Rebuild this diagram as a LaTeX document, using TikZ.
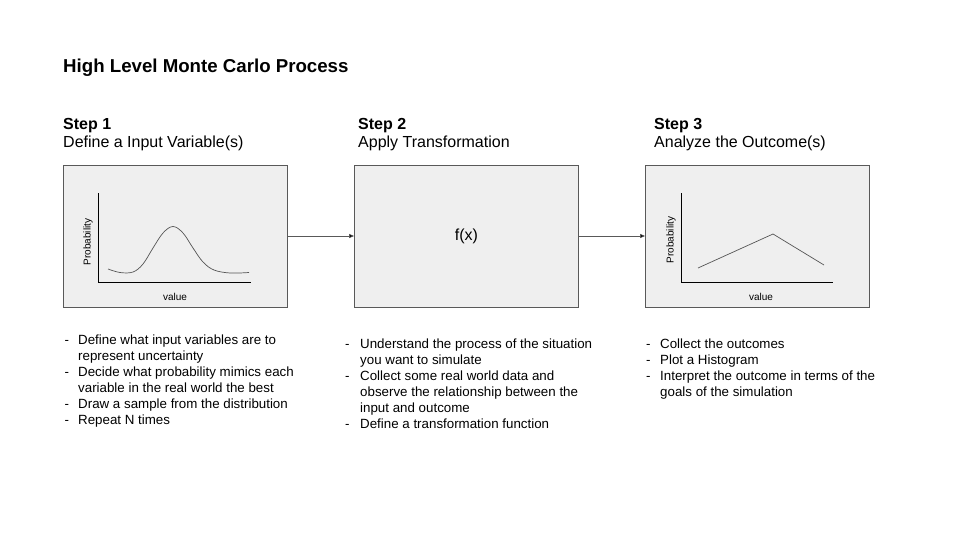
\documentclass[tikz,border=0pt]{standalone}
\usepackage{fontspec}
\setmainfont{Liberation Sans}
\usepackage{tikz}
\usetikzlibrary{positioning, arrows.meta}

\definecolor{boxfill}{HTML}{EFEFEF}
\definecolor{boxline}{HTML}{595959}
\definecolor{plotline}{HTML}{555555}
\newcommand{\listfont}{\fontsize{13.33}{16}\selectfont}

\begin{document}
\begin{tikzpicture}[x=1pt, y=-1pt,
    stepbox/.style={rectangle, draw=boxline, fill=boxfill, line width=0.8pt, minimum width=224pt, minimum height=142pt, inner sep=0pt},
    axislabel/.style={inner sep=0pt, font=\fontsize{10}{12}\selectfont}]
            \useasboundingbox (0,0) rectangle (960,540);

            % title
            \node[anchor=base west, inner sep=0pt, font=\bfseries\fontsize{18.67}{22}\selectfont](title) at (63,72.5) {High Level Monte Carlo Process};

            % step headings
            \node[anchor=base west, inner sep=0pt, font=\bfseries\fontsize{16}{19}\selectfont](s1) at (63,129.5) {Step 1};
            \node[anchor=base west, inner sep=0pt, font=\bfseries\fontsize{16}{19}\selectfont](s2) at (358,129.5) {Step 2};
            \node[anchor=base west, inner sep=0pt, font=\bfseries\fontsize{16}{19}\selectfont](s3) at (654,129.5) {Step 3};
            \node[anchor=base west, inner sep=0pt, font=\fontsize{16}{19}\selectfont](t1) at (63,147.5) {Define a Input Variable(s)};
            \node[anchor=base west, inner sep=0pt, font=\fontsize{16}{19}\selectfont](t2) at (358,147.5) {Apply Transformation};
            \node[anchor=base west, inner sep=0pt, font=\fontsize{16}{19}\selectfont](t3) at (654,147.5) {Analyze the Outcome(s)};

            % boxes
            \node[stepbox](b1) at (175.5,236) {};
            \node[stepbox](b2)[right = 66.2pt of b1]{\fontsize{16}{19}\selectfont\raisebox{-3.5pt}{f(x)}};
            \node[stepbox](b3)[right = 66.2pt of b2]{};

            \path[-{Triangle[length=5pt,width=4pt]}, draw=boxline, line width=0.6pt]
            (b1) edge (b2)
            (b2) edge (b3);

            % input distribution
            \draw[line width=0.6pt] (98,193) -- (98,282) -- (251,282);
            \node[axislabel, rotate=90](p1) at (88,242) {Probability};
            \node[axislabel](v1) at (175,297) {value};
            \draw[plotline, line width=0.7pt] plot[smooth, tension=0.6] coordinates {(108,269) (120,272.5) (133,272) (143,264) (153,248) (163,233) (173,226.5) (183,233) (193,248) (203,262) (214,270) (230,273) (249,272.5)};

            % outcome distribution
            \draw[line width=0.6pt] (681,193) -- (681,282) -- (833,282);
            \node[axislabel, rotate=90](p3) at (671,240) {Probability};
            \node[axislabel](v3) at (761,297) {value};
            \draw[plotline, line width=0.7pt] (698,268) -- (773,234) -- (824,265);

            % notes
            \node[anchor=base west, inner sep=0pt, font=\listfont](n1) at (63,344) {\begin{tabular}[t]{@{}p{15pt}@{}l@{}}
            \hspace{1.5pt}- & Define what input variables are to\\
              & represent uncertainty\\
            \hspace{1.5pt}- & Decide what probability mimics each\\
              & variable in the real world the best\\
            \hspace{1.5pt}- & Draw a sample from the distribution\\
            \hspace{1.5pt}- & Repeat N times
            \end{tabular}};
            \node[anchor=base west, inner sep=0pt, font=\listfont](n2) at (343.5,348) {\begin{tabular}[t]{@{}p{16.5pt}@{}l@{}}
            \hspace{1.5pt}- & Understand the process of the situation\\
              & you want to simulate\\
            \hspace{1.5pt}- & Collect some real world data and\\
              & observe the relationship between the\\
              & input and outcome\\
            \hspace{1.5pt}- & Define a transformation function
            \end{tabular}};
            \node[anchor=base west, inner sep=0pt, font=\listfont](n3) at (644.5,348) {\begin{tabular}[t]{@{}p{15.5pt}@{}l@{}}
            \hspace{1.5pt}- & Collect the outcomes\\
            \hspace{1.5pt}- & Plot a Histogram\\
            \hspace{1.5pt}- & Interpret the outcome in terms of the\\
              & goals of the simulation
            \end{tabular}};
        \end{tikzpicture}
\end{document}
